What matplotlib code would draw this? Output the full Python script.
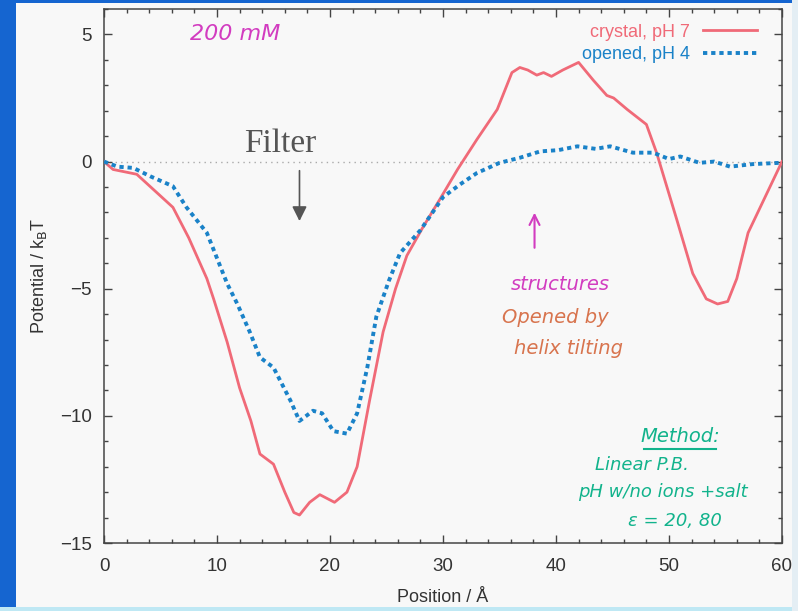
import matplotlib
matplotlib.use('Agg')
import matplotlib.pyplot as plt
import matplotlib.patches as mpatches
from matplotlib.ticker import MultipleLocator

plt.rcParams['font.family'] = ['Liberation Sans', 'DejaVu Sans']

# ── data ─────────────────────────────────────────────────────────────────────
crystal_x = [0, 0.8, 2.9, 4.5, 6.1, 7.5, 9.1, 9.7, 10.9, 12.0, 13.0, 13.8, 15.0,
             16.0, 16.8, 17.3, 18.2, 19.1, 20.4, 21.5, 22.4, 23.5, 24.7, 25.8,
             26.8, 28.2, 29.7, 31.3, 33.0, 34.8, 36.1, 36.8, 37.5, 38.3, 38.9,
             39.6, 40.6, 42.0, 43.3, 44.5, 45.1, 46.3, 48.0, 48.9, 50.7, 52.1,
             53.3, 54.3, 55.2, 56.0, 57.0, 58.5, 60.0]
crystal_y = [0, -0.31, -0.5, -1.15, -1.8, -3.0, -4.6, -5.4, -7.1, -8.9, -10.2,
             -11.5, -11.9, -13.0, -13.8, -13.9, -13.4, -13.1, -13.4, -13.0, -12.0,
             -9.4, -6.7, -5.0, -3.7, -2.6, -1.5, -0.3, 0.87, 2.05, 3.5, 3.7, 3.6,
             3.4, 3.5, 3.35, 3.6, 3.9, 3.2, 2.6, 2.5, 2.05, 1.46, 0.35, -2.3, -4.4,
             -5.4, -5.6, -5.5, -4.6, -2.8, -1.4, 0]

opened_x = [0, 1.2, 2.6, 4.1, 6.1, 7.3, 9.1, 10.9, 11.8, 12.9, 13.8, 15.0, 16.5,
            17.3, 18.5, 19.3, 20.3, 21.5, 22.4, 23.3, 24.1, 25.2, 26.2, 28.0,
            30.0, 31.5, 33.0, 35.0, 36.8, 38.6, 40.2, 41.9, 43.5, 44.8, 46.8,
            48.6, 50.0, 51.0, 52.7, 54.0, 55.4, 57.4, 59.8, 60.0]
opened_y = [0, -0.2, -0.25, -0.58, -0.97, -1.8, -2.8, -4.8, -5.6, -6.7, -7.7,
            -8.1, -9.4, -10.2, -9.8, -9.9, -10.6, -10.7, -9.9, -8.1, -6.1, -4.7,
            -3.6, -2.7, -1.4, -0.9, -0.45, -0.05, 0.15, 0.4, 0.45, 0.6, 0.5, 0.6,
            0.35, 0.35, 0.1, 0.2, -0.05, 0.0, -0.2, -0.1, -0.05, 0]

RED = '#f06a78'
BLUE = '#1a82c8'

fig = plt.figure(figsize=(7.98, 6.11), dpi=100)
fig.patch.set_facecolor('#f8f8f8')

# ── blue frame of the slide ──
fig.add_artist(mpatches.Rectangle((0, 0), 16/798, 1, transform=fig.transFigure,
                                  facecolor='#1565d0', edgecolor='none'))
fig.add_artist(mpatches.Rectangle((0, 1 - 3/611), 1, 3/611, transform=fig.transFigure,
                                  facecolor='#1565d0', edgecolor='none'))
fig.add_artist(mpatches.Rectangle((0, 0), 1, 4/611, transform=fig.transFigure,
                                  facecolor='#bfe8f4', edgecolor='none'))
fig.add_artist(mpatches.Rectangle((1 - 6/798, 0), 6/798, 1, transform=fig.transFigure,
                                  facecolor='#e4eef4', edgecolor='none'))

ax = fig.add_axes([104/798, 68/611, 678/798, 534/611])
ax.set_facecolor('#f8f8f8')

ax.axhline(0, color='#aaaaaa', lw=1, ls=(0, (1, 3)), zorder=1)

ax.plot(crystal_x, crystal_y, color=RED, lw=2.0, zorder=3, label='crystal, pH 7')
ax.plot(opened_x, opened_y, color=BLUE, lw=2.8, ls=(0, (1.1, 1.0)), zorder=3,
        label='opened, pH 4')

ax.set_xlim(0, 60)
ax.set_ylim(-15, 6)
ax.set_yticks([5, 0, -5, -10, -15])
ax.set_yticklabels(['5', '0', '\u22125', '\u221210', '\u221215'])
ax.xaxis.set_major_locator(MultipleLocator(10))
ax.xaxis.set_minor_locator(MultipleLocator(2))
ax.yaxis.set_minor_locator(MultipleLocator(1))
ax.tick_params(which='both', direction='in', top=True, right=True, color='#444444',
               labelsize=13.5, labelcolor='#333333')
ax.tick_params(axis='x', which='major', pad=11)
ax.tick_params(axis='y', which='major', pad=9)
ax.tick_params(which='major', length=6, width=1)
ax.tick_params(which='minor', length=3, width=1)
for s in ax.spines.values():
    s.set_color('#444444')
    s.set_linewidth(1.1)

ax.set_xlabel('Position / \u00c5', fontsize=13, color='#333333', labelpad=10)
ax.set_ylabel('Potential / k$_\\mathrm{B}$T', fontsize=13, color='#333333', labelpad=8)

# ── gnuplot-style legend: text right-aligned, sample line on the right ──
leg = ax.legend(loc='upper right', frameon=False, fontsize=13, markerfirst=False,
                handlelength=3.0, handletextpad=0.7, borderaxespad=1.0,
                labelspacing=0.3, bbox_to_anchor=(1.0, 1.02))
for txt, col in zip(leg.get_texts(), [RED, BLUE]):
    txt.set_color(col)

# ── annotations ──
ax.text(15.6, 0.72, 'Filter', fontsize=24, family='Liberation Serif',
        color='#555555', ha='center', va='center')
ax.annotate('', xy=(17.3, -2.45), xytext=(17.3, -0.25),
            arrowprops=dict(arrowstyle='-|>', color='#555555', lw=1.2,
                            mutation_scale=22))

hand = dict(family='DejaVu Sans', style='oblique')
ax.text(11.6, 5.0, '200 mM', fontsize=16, color='#d23cc0', ha='center', va='center', **hand)

ax.annotate('', xy=(38.1, -1.9), xytext=(38.1, -3.5),
            arrowprops=dict(arrowstyle='->', color='#d23cc0', lw=1.5,
                            mutation_scale=18))
ax.text(40.4, -4.85, 'structures', fontsize=14, color='#d23cc0', ha='center',
        va='center', **hand)
ax.text(39.9, -6.15, 'Opened by', fontsize=14, color='#d8744e', ha='center',
        va='center', **hand)
ax.text(41.1, -7.35, 'helix tilting', fontsize=14, color='#d8744e', ha='center',
        va='center', **hand)

TEAL = '#12b38c'
ax.text(51.0, -10.8, 'Method:', fontsize=14, color=TEAL, ha='center', va='center', **hand)
ax.plot([47.8, 54.2], [-11.3, -11.3], color=TEAL, lw=1.5)
ax.text(47.6, -11.95, 'Linear P.B.', fontsize=13, color=TEAL, ha='center',
        va='center', **hand)
ax.text(49.5, -13.0, 'pH w/no ions +salt', fontsize=13, color=TEAL, ha='center',
        va='center', **hand)
ax.text(50.5, -14.15, '\u03b5 = 20, 80', fontsize=13, color=TEAL, ha='center',
        va='center', **hand)

fig.savefig('out.png', dpi=100, facecolor=fig.get_facecolor())
